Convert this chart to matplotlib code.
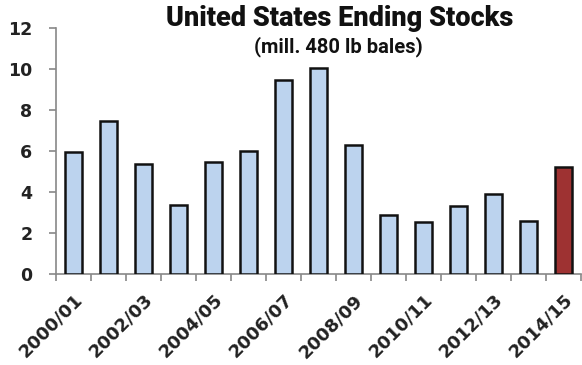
import matplotlib.pyplot as plt
import numpy as np

seasons = ["2000/01", "2001/02", "2002/03", "2003/04", "2004/05", "2005/06",
           "2006/07", "2007/08", "2008/09", "2009/10", "2010/11", "2011/12",
           "2012/13", "2013/14", "2014/15"]
stocks = [5.95, 7.5, 5.37, 3.4, 5.48, 6.0, 9.5, 10.08, 6.33, 2.91, 2.55,
          3.32, 3.9, 2.6, 5.23]

blue = "#bcd3ee"
red = "#9e3232"
colors = [blue] * (len(seasons) - 1) + [red]

fig = plt.figure(figsize=(5.82, 3.65), dpi=100)
ax = fig.add_axes([0.0962, 0.249, 0.902, 0.673])

x = np.arange(len(seasons))
ax.bar(x, stocks, width=0.46, color=colors, edgecolor="#111111", linewidth=1.8, zorder=3)

ax.set_xlim(-0.5, len(seasons) - 0.5)
ax.set_ylim(0, 12)
ax.set_yticks(range(0, 13, 2))

ax.set_xticks(x[::2])
ax.set_xticklabels(seasons[::2], rotation=45, ha="right", rotation_mode="anchor",
                   fontsize=13, fontweight="bold", color="#222222")
ax.set_xticks(np.arange(-0.5, len(seasons), 1), minor=True)
ax.tick_params(axis="x", which="major", length=0, pad=12)
ax.tick_params(axis="x", which="minor", length=5, width=1.2, color="#888888")
ax.tick_params(axis="y", length=5, width=1.2, color="#888888", labelsize=12.5, pad=12)
for lab in ax.get_yticklabels():
    lab.set_fontweight("bold")
    lab.set_color("#222222")

for s in ["top", "right"]:
    ax.spines[s].set_visible(False)
for s in ["left", "bottom"]:
    ax.spines[s].set_color("#888888")
    ax.spines[s].set_linewidth(1.2)

fig.text(0.583, 0.948, "United States Ending Stocks", ha="center", va="center",
         fontsize=19.5, fontweight="black", family=["Roboto", "DejaVu Sans"], color="#111111")
fig.text(0.582, 0.873, "(mill. 480 lb bales)", ha="center", va="center",
         fontsize=14.5, fontweight="bold", family=["Roboto", "DejaVu Sans"], color="#111111")

fig.savefig("out.png", dpi=100)
